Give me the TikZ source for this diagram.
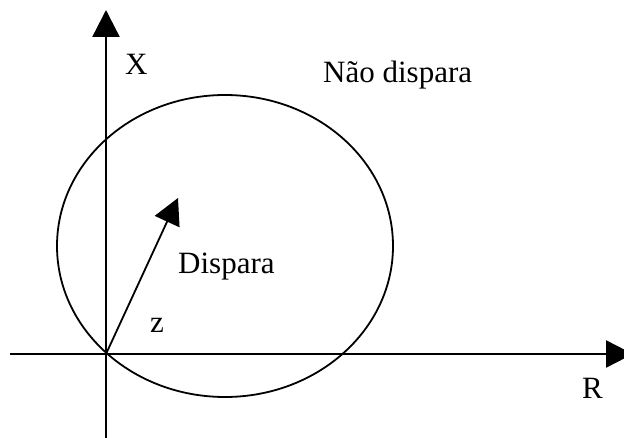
\documentclass[tikz,border=0pt]{standalone}
\usepackage{fontspec}
\setmainfont{Liberation Serif}
\usetikzlibrary{arrows.meta}

\begin{document}
\begin{tikzpicture}[
  x=1pt, y=-1pt,
  every node/.style={font=\fontsize{31}{37}\selectfont, inner sep=0pt, anchor=base west},
  eixo/.style={line width=2.4pt, -{Triangle[length=27pt,width=27pt]}},
  vetor/.style={line width=1.8pt, -{Triangle[length=26pt,width=27pt]}},
  limiar/.style={line width=1.8pt}
]
\useasboundingbox (0,0) rectangle (624,438);
\coordinate (origem) at (106,354);
\coordinate (rmin) at (10,354);
\coordinate (rmax) at (633,354);
\coordinate (xmin) at (106,438);
\coordinate (xmax) at (106,10);
\coordinate (ponta) at (178,198);

\draw[limiar] (225,246) ellipse [x radius=168, y radius=151];
\draw[eixo] (rmin) -- (rmax);
\draw[eixo] (xmin) -- (xmax);
\draw[vetor] (origem) -- (ponta);

\node (labx) at (125,75) {X};
\node (labr) at (582,398) {R};
\node (fora) at (323,83) {Não dispara};
\node (dentro) at (178,274) {Dispara};
\node (labz) at (150,333) {z};
\end{tikzpicture}
\end{document}
